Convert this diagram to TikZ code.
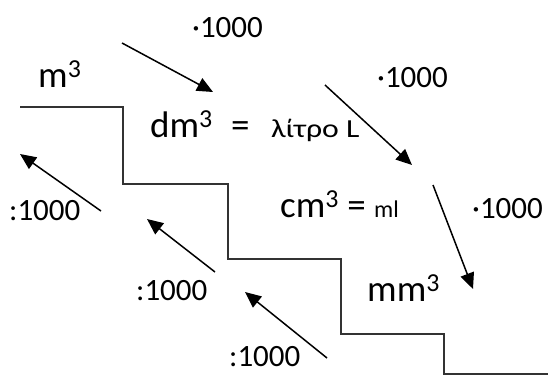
\documentclass[tikz,border=0pt]{standalone}
\usepackage{fontspec}
\setmainfont{Carlito}
\usetikzlibrary{arrows.meta}

\begin{document}
\begin{tikzpicture}[x=1pt, y=-1pt,
        unit/.style={anchor=base west, inner sep=0pt, font=\fontsize{37}{42}\selectfont},
        factor/.style={anchor=base west, inner sep=0pt, font=\fontsize{31}{36}\selectfont},
        aside/.style={font=\fontsize{26}{30}\selectfont, xscale=1.22},
        conv/.style={-{Triangle[length=16pt, width=14pt]}, line width=1.5pt},
        stair/.style={line width=1.1pt, draw=black!80}
    ]
    \useasboundingbox (0,0) rectangle (548,376);

    % Staircase
    \draw[stair] (20,107) -| (123,184) -| (228,259) -| (341,334) -| (444,374) -- (548,374);

    % Units
    \node[unit] (m3) at (38,87) {m\textsuperscript{3}};
    \node[unit] (dm3) at (150,137) {dm\textsuperscript{3}};
    \node[unit] (eq) at (231,137) {=};
    \node[unit, aside] (litre) at (271,137) {λίτρο L};
    \node[unit] (cm3) at (280,217) {cm\textsuperscript{3} = {\fontsize{24}{28}\selectfont ml}};
    \node[unit] (mm3) at (367,301) {mm\textsuperscript{3}};

    % Factors
    \node[factor] (mul1) at (192,37) {·1000};
    \node[factor] (mul2) at (377,87) {·1000};
    \node[factor] (mul3) at (472,218) {·1000};
    \node[factor] (div1) at (9,220) {:1000};
    \node[factor] (div2) at (136,300) {:1000};
    \node[factor] (div3) at (229,366) {:1000};

    % Arrow ends
    \coordinate (down1s) at (122,43);  \coordinate (down1e) at (213,92);
    \coordinate (down2s) at (325,85);  \coordinate (down2e) at (412,165);
    \coordinate (down3s) at (433,185); \coordinate (down3e) at (473,289);
    \coordinate (up1s) at (101,211);   \coordinate (up1e) at (20,154);
    \coordinate (up2s) at (215,272);   \coordinate (up2e) at (147,219);
    \coordinate (up3s) at (327,358);   \coordinate (up3e) at (245,292);

    % Multiply down
    \draw[conv] (down1s) -- (down1e);
    \draw[conv] (down2s) -- (down2e);
    \draw[conv] (down3s) -- (down3e);

    % Divide up
    \draw[conv] (up1s) -- (up1e);
    \draw[conv] (up2s) -- (up2e);
    \draw[conv] (up3s) -- (up3e);

\end{tikzpicture}
\end{document}
